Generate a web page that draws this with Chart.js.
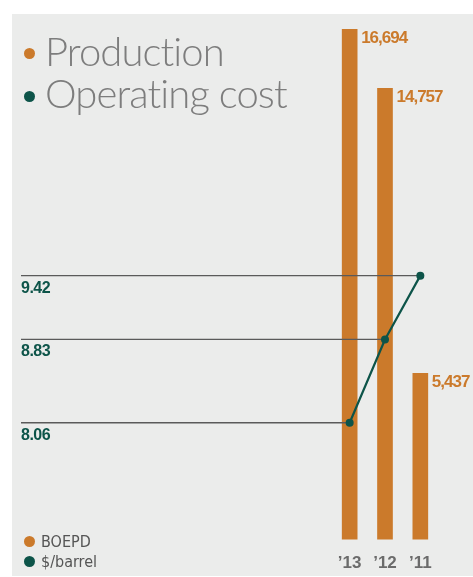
<!DOCTYPE html>
<html>
<head>
<meta charset="utf-8">
<script src="https://cdn.jsdelivr.net/npm/chart.js@4/dist/chart.umd.min.js"></script>
<style>
  html, body { margin: 0; padding: 0; background: #fff; }
  #wrap { position: relative; width: 473px; height: 577px; overflow: hidden; }
  .panel { position: absolute; left: 12px; top: 14px; width: 461px; height: 562px; background: #ebeceb; }
  #chart { position: absolute; left: 0; top: 0; }
  .dot { position: absolute; width: 11px; height: 11px; border-radius: 50%; }
  .title { position: absolute; left: 45px; font-family: Lato, "Open Sans", sans-serif; font-weight: 300;
           font-size: 40px; line-height: 40px; color: #7d7d7d; letter-spacing: -0.9px; white-space: nowrap; }
  .legend { position: absolute; left: 41px; font-family: "Liberation Sans Narrow", "DejaVu Sans Condensed", sans-serif;
            font-size: 16px; line-height: 16px; color: #555; white-space: nowrap; }
</style>
</head>
<body>
<div id="wrap">
  <div class="panel"></div>
  <canvas id="chart" width="473" height="577"></canvas>

  <div class="dot" style="left:23.5px; top:47.5px; background:#cb7a2b"></div>
  <div class="title" style="top:30.5px">Production</div>
  <div class="dot" style="left:23.5px; top:90.5px; background:#0d5449"></div>
  <div class="title" style="top:72.5px">Operating cost</div>

  <div class="dot" style="left:23.5px; top:535.5px; background:#cb7a2b"></div>
  <div class="legend" style="top:533.5px">BOEPD</div>
  <div class="dot" style="left:23.5px; top:555.5px; background:#0d5449"></div>
  <div class="legend" style="top:553.5px">$/barrel</div>
</div>

<script>
const years = ['\u201913', '\u201912', '\u201911'];
const boepd = [16694, 14757, 5437];
const costPerBarrel = [8.06, 8.83, 9.42];

const ORANGE = '#cb7a2b';
const GREEN = '#0d5449';
const BOLDFONT = '"Liberation Sans", Arial, sans-serif';

// value labels to the right of each bar top
const barLabels = {
    id: 'barLabels',
    afterDatasetsDraw(chart) {
        const ctx = chart.ctx;
        const meta = chart.getDatasetMeta(0);
        ctx.save();
        ctx.font = 'bold 17px ' + BOLDFONT;
        ctx.letterSpacing = '-1px';
        ctx.fillStyle = ORANGE;
        ctx.textBaseline = 'alphabetic';
        ctx.textAlign = 'left';
        meta.data.forEach((bar, i) => {
            ctx.fillText(boepd[i].toLocaleString('en-US'), bar.x + bar.width / 2 + 4, bar.y + 14);
        });
        ctx.restore();
    }
};

// leader lines from the left edge to each cost point, drawn over the bars
const costLines = {
    id: 'costLines',
    afterDatasetDraw(chart, args) {
        if (args.meta.type !== 'bar') return;
        const ctx = chart.ctx;
        const y2 = chart.scales.y2;
        const line = chart.getDatasetMeta(1);
        ctx.save();
        ctx.strokeStyle = '#5a5a5a';
        ctx.lineWidth = 1.3;
        ctx.font = 'bold 16px ' + BOLDFONT;
        ctx.letterSpacing = '-0.5px';
        ctx.fillStyle = GREEN;
        ctx.textBaseline = 'alphabetic';
        costPerBarrel.forEach((v, i) => {
            const py = y2.getPixelForValue(v);
            ctx.beginPath();
            ctx.moveTo(21, py);
            ctx.lineTo(line.data[i].x, py);
            ctx.stroke();
            ctx.fillText(v.toFixed(2), 21, py + 17);
        });
        ctx.restore();
    }
};

new Chart(document.getElementById('chart'), {
    type: 'bar',
    data: {
        labels: years,
        datasets: [
            {
                label: 'BOEPD',
                data: boepd,
                backgroundColor: ORANGE,
                barThickness: 15,
                yAxisID: 'y',
                order: 1
            },
            {
                type: 'line',
                label: '$/barrel',
                data: costPerBarrel,
                borderColor: GREEN,
                borderWidth: 2.2,
                pointRadius: 4,
                pointBackgroundColor: GREEN,
                pointBorderWidth: 0,
                yAxisID: 'y2',
                order: 0
            }
        ]
    },
    options: {
        responsive: false,
        animation: false,
        layout: { padding: { left: 332, right: 35, top: 29, bottom: -11 } },
        plugins: {
            legend: { display: false },
            tooltip: { enabled: false }
        },
        scales: {
            x: {
                grid: { display: false, drawTicks: false },
                border: { display: false },
                ticks: {
                    color: '#6b6b6b',
                    padding: 14,
                    font: { family: BOLDFONT, size: 17, weight: 'bold' }
                }
            },
            y: { display: false, min: 0, max: 16700 },
            y2: { display: false, min: 6.98, max: 11.70 }
        }
    },
    plugins: [barLabels, costLines]
});
</script>
</body>
</html>
